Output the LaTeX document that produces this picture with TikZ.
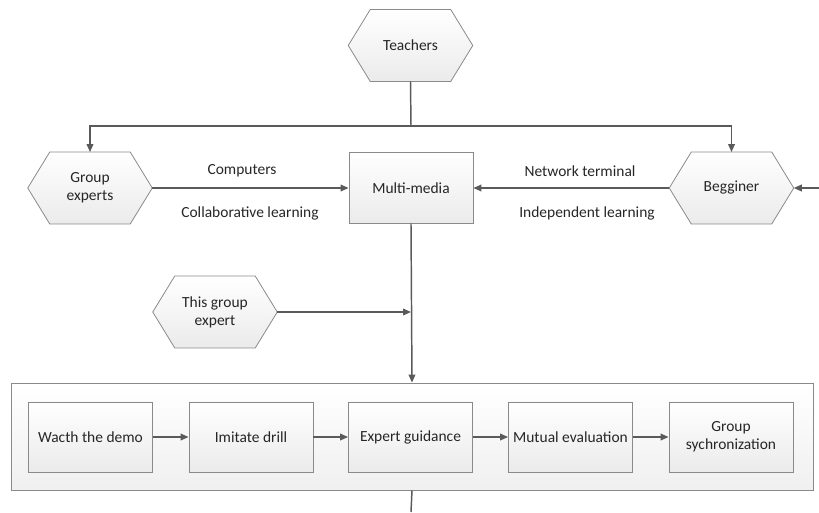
\documentclass[tikz,border=0pt]{standalone}
\usepackage{fontspec}
\setmainfont{Carlito}
\usetikzlibrary{arrows.meta,backgrounds,calc}
\definecolor{ln}{HTML}{5A5A5A}
\definecolor{bd}{HTML}{8A8A8A}
\definecolor{tx}{HTML}{262626}
\begin{document}
\begin{tikzpicture}[x=0.75pt,y=-0.75pt,
  font=\fontsize{11.6}{13.5}\selectfont, text=tx,
  hexa/.style={minimum width=93pt,minimum height=53.5pt,inner sep=0pt,align=center},
  boxnode/.style={draw=bd,line width=0.6pt,top color=white,bottom color=black!8,minimum width=93pt,minimum height=52.5pt,inner sep=0pt,align=center},
  hexline/.style={draw=bd,line width=0.6pt,top color=white,bottom color=black!8},
  conn/.style={draw=ln,line width=1.1pt},
  arr/.style={conn,-{Triangle[length=6pt,width=5pt]}},
  lab/.style={inner sep=0pt}]
\useasboundingbox (0,0) rectangle (819,512);

% container
\node[draw=bd,line width=0.6pt,top color=white,bottom color=black!6,minimum width=601.5pt,minimum height=80.25pt,inner sep=0pt] (grp) at (412,436.5) {};

% hexagon nodes
\node[hexa] (t)  at (410.5,45.5) {Teachers};
\node[hexa] (ge) at (90,188) {Group\\experts};
\node[hexa] (bg) at (731.5,188) {Begginer};
\node[hexa] (tg) at (215,312) {This group\\expert};
\begin{scope}[on background layer]
\foreach \n in {t,ge,bg,tg}{
  \path[hexline] (\n.west) -- ([xshift=16.5pt]\n.north west) -- ([xshift=-16.5pt]\n.north east) -- (\n.east) -- ([xshift=-16.5pt]\n.south east) -- ([xshift=16.5pt]\n.south west) -- cycle;
}
\end{scope}

% multimedia
\node[boxnode,minimum height=53pt] (mm) at (411,188) {Multi-media};

% inner boxes
\node[boxnode] (b1) at (90.5,437) {Wacth the demo};
\node[boxnode] (b2) at (251,437) {Imitate drill};
\node[boxnode] (b3) at (410.5,437) {Expert guidance};
\node[boxnode] (b4) at (570.5,437) {Mutual evaluation};
\node[boxnode] (b5) at (731,437) {Group\\sychronization};

% labels
\node[lab] (l1) at (242,171) {Computers};
\node[lab] (l2) at (250,213) {Collaborative learning};
\node[lab] (l3) at (580,171) {Network terminal};
\node[lab] (l4) at (587,213) {Independent learning};

% connectors
\coordinate (j) at (411,126);
\coordinate (rin) at (819,188);
\coordinate (bot) at (411,512);
\draw[conn] (t.south) -- (j);
\draw[arr] (j) -| (ge.north);
\draw[arr] (j) -| (bg.north);
\draw[arr] (ge.east) -- (mm.west);
\draw[arr] (bg.west) -- (mm.east);
\draw[arr] (rin) -- (bg.east);
\draw[arr] (mm.south) -- (grp.north);
\draw[arr] (tg.east) -- (tg.east -| mm.south);
\draw[conn] (grp.south) -- (bot);
\draw[arr] (b1) -- (b2);
\draw[arr] (b2) -- (b3);
\draw[arr] (b3) -- (b4);
\draw[arr] (b4) -- (b5);
\end{tikzpicture}
\end{document}
